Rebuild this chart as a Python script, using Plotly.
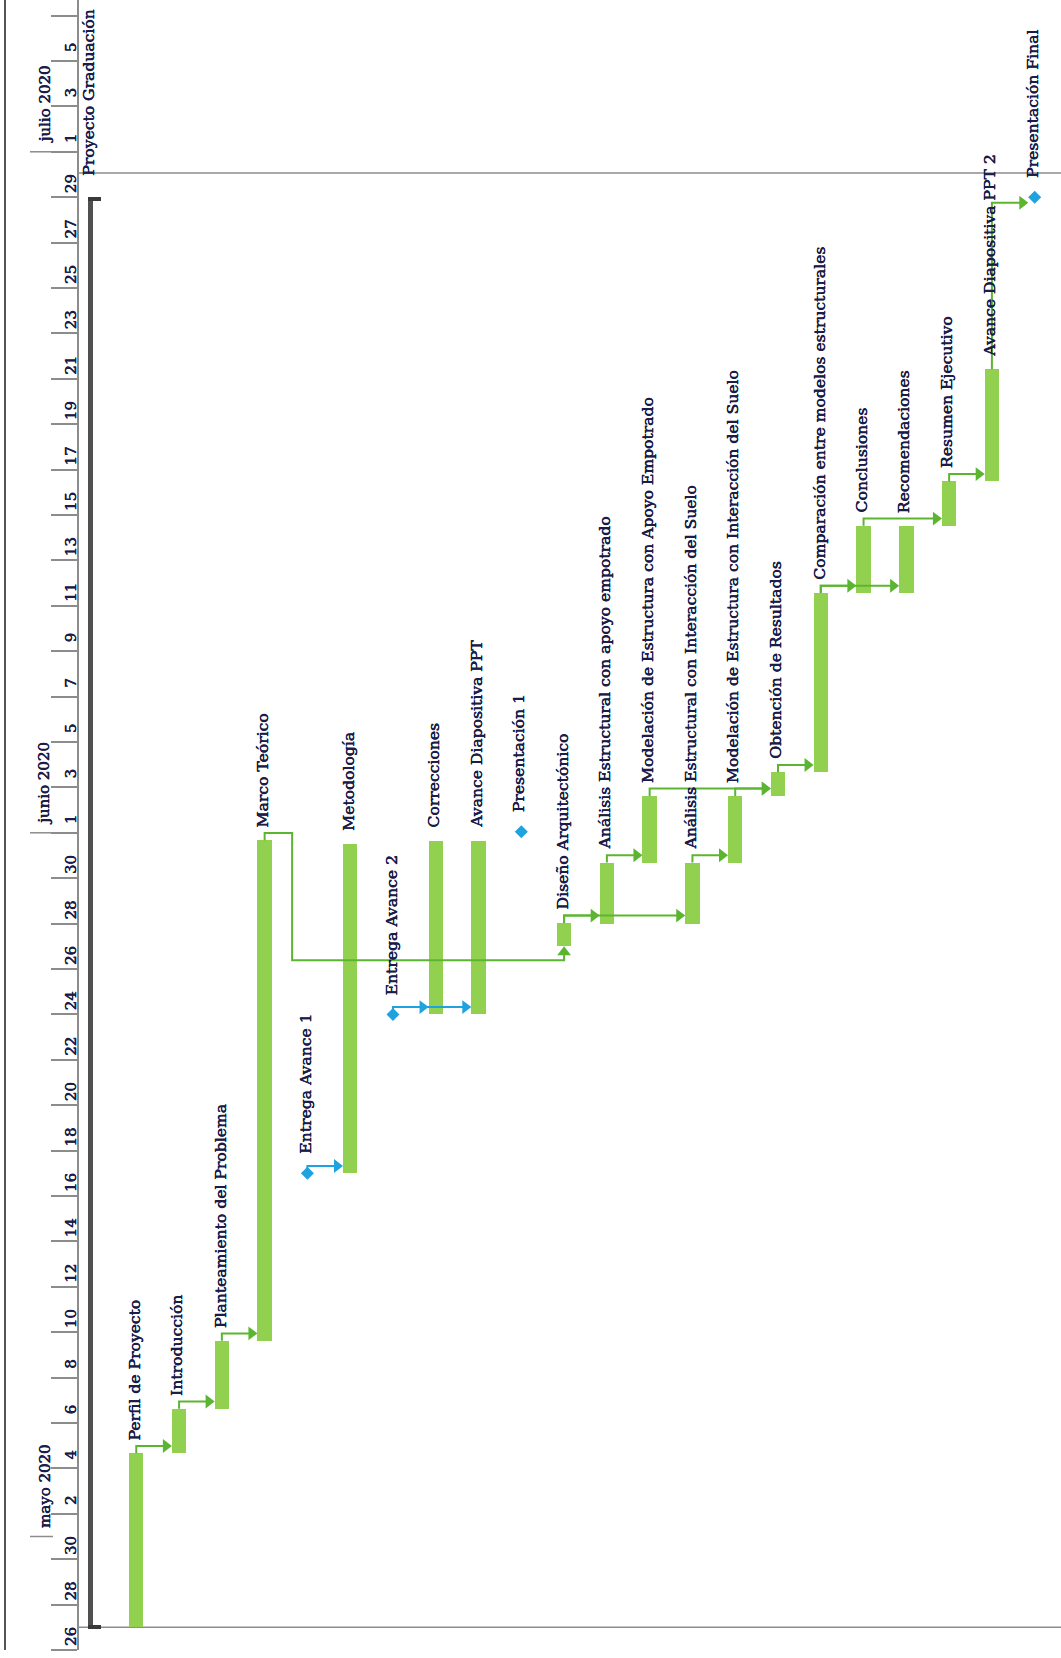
import plotly.graph_objects as go
import pandas as pd

# ---------------- data ----------------
task_names = [
    "Perfil de Proyecto", "Introducción", "Planteamiento del Problema", "Marco Teórico",
    "Entrega Avance 1", "Metodología", "Entrega Avance 2", "Correcciones",
    "Avance Diapositiva PPT", "Presentación 1", "Diseño Arquitectónico",
    "Análisis Estructural con apoyo empotrado",
    "Modelación de Estructura con Apoyo Empotrado",
    "Análisis Estructural con Interacción del Suelo",
    "Modelación de Estructura con Interacción del Suelo",
    "Obtención de Resultados", "Comparación entre modelos estructurales",
    "Conclusiones", "Recomendaciones", "Resumen Ejecutivo",
    "Avance Diapositiva PPT 2", "Presentación Final",
]
task_kinds = [
    "task", "task", "task", "task", "milestone", "task", "milestone", "task",
    "task", "milestone", "task", "task", "task", "task", "task", "task", "task",
    "task", "task", "task", "task", "milestone",
]
task_starts = [
    "2020-04-27 00:00", "2020-05-04 16:00", "2020-05-06 15:00", "2020-05-09 15:00",
    "2020-05-17 00:00", "2020-05-17 00:00", "2020-05-24 00:00", "2020-05-24 00:00",
    "2020-05-24 00:00", "2020-06-01 01:00", "2020-05-27 00:00",
    "2020-05-28 00:00", "2020-05-30 16:30",
    "2020-05-28 00:00", "2020-05-30 16:30",
    "2020-06-02 15:00", "2020-06-03 16:00",
    "2020-06-11 13:30", "2020-06-11 13:30", "2020-06-14 12:30",
    "2020-06-16 11:30", "2020-06-29 00:00",
]
task_finishes = [
    "2020-05-04 16:00", "2020-05-06 15:00", "2020-05-09 15:00", "2020-05-31 16:00",
    "2020-05-17 00:00", "2020-05-31 12:30", "2020-05-24 00:00", "2020-05-31 15:30",
    "2020-05-31 15:30", "2020-06-01 01:00", "2020-05-28 00:45",
    "2020-05-30 16:30", "2020-06-02 15:00",
    "2020-05-30 16:30", "2020-06-02 15:00",
    "2020-06-03 16:00", "2020-06-11 13:30",
    "2020-06-14 12:30", "2020-06-14 12:30", "2020-06-16 11:30",
    "2020-06-21 10:00", "2020-06-29 00:00",
]
summary_name = "Proyecto Graduación"
summary_start = "2020-04-27 00:00"
summary_finish = "2020-06-29 00:00"

# dependencies (predecessor index -> successor index)
link_from = [0, 1, 2, 4, 6, 6, 3, 10, 10, 11, 13, 12, 14, 15, 16, 16, 17, 19, 20]
link_to = [1, 2, 3, 5, 7, 8, 10, 11, 13, 12, 14, 15, 15, 16, 17, 18, 19, 20, 21]

month_labels = ["mayo 2020", "junio 2020", "julio 2020"]
month_starts = ["2020-05-01", "2020-06-01", "2020-07-01"]

project_start_line = "2020-04-27 00:00"
status_line = "2020-06-30 01:40"

time_range = ["2020-04-26 00:00", "2020-07-07 16:29"]

# ---------------- styling ----------------
W, H = 1061, 1658
ML, MR, MT, MB = 79, 0, 0, 8
PW, PH = W - ML - MR, H - MT - MB
X_RANGE = [-1.339, 21.615]
COL_PX = PW / (X_RANGE[1] - X_RANGE[0])
t0, t1 = pd.Timestamp(time_range[0]), pd.Timestamp(time_range[1])
DAY_PX = PH / ((t1 - t0) / pd.Timedelta(days=1))

BAR_GREEN = "#92d050"
LINK_GREEN = "#5cb531"
BLUE = "#1fa2e0"
TEXT = "#1c1c4a"
GRID = "#8c8c8c"
FONT = "DejaVu Serif"
SHADOW = "0.45px 0 0 #1c1c4a, -0.2px 0 0 #1c1c4a"
BAR_PX = 14.4


def dpx(p):
    return pd.Timedelta(days=p / DAY_PX)


def cpx(p):
    return p / COL_PX


def paper_x(px):
    return (px - ML) / PW


starts = [pd.Timestamp(s) for s in task_starts]
finishes = [pd.Timestamp(s) for s in task_finishes]
cols = list(range(len(task_names)))

fig = go.Figure()

# task bars
bi = [i for i, k in enumerate(task_kinds) if k == "task"]
fig.add_trace(go.Bar(
    x=[cols[i] for i in bi],
    y=[(finishes[i] - starts[i]) / pd.Timedelta(milliseconds=1) for i in bi],
    base=[task_starts[i] for i in bi],
    width=cpx(BAR_PX), marker=dict(color=BAR_GREEN, line=dict(width=0)),
    hoverinfo="skip", showlegend=False,
))

# summary bar
ss_, sf_ = pd.Timestamp(summary_start), pd.Timestamp(summary_finish)
fig.add_trace(go.Bar(
    x=[-1], y=[(sf_ - ss_) / pd.Timedelta(milliseconds=1)], base=[summary_start],
    width=cpx(5), offset=-cpx(6), marker=dict(color="#505050", line=dict(width=0)),
    hoverinfo="skip", showlegend=False,
))
cap_ms = dpx(3.8) / pd.Timedelta(milliseconds=1)
fig.add_trace(go.Bar(
    x=[-1, -1], y=[cap_ms, cap_ms], base=[ss_ - dpx(1.5), sf_ - dpx(3.8)],
    width=cpx(13.5), offset=-cpx(6), marker=dict(color="#3a3a3a", line=dict(width=0)),
    hoverinfo="skip", showlegend=False,
))

# links
arrows = {"green": {"right": ([], []), "up": ([], [])},
          "blue": {"right": ([], []), "up": ([], [])}}
for p, s in zip(link_from, link_to):
    color = "blue" if task_kinds[p] == "milestone" else "green"
    pc, sc = cols[p], cols[s]
    pf, st = finishes[p], starts[s]
    if task_kinds[s] == "milestone":
        ly = st - dpx(5.6)
        tip = sc - cpx(6.4)
        xs, ys = [pc, pc, tip - cpx(4)], [pf, ly, ly]
        arrows[color]["right"][0].append(tip - cpx(6))
        arrows[color]["right"][1].append(ly)
    elif st >= pf - dpx(3):
        ly = max(st, pf) + dpx(7.3)
        tip = sc - cpx(BAR_PX / 2)
        xs, ys = [pc, pc, tip - cpx(4)], [pf, ly, ly]
        arrows[color]["right"][0].append(tip - cpx(6))
        arrows[color]["right"][1].append(ly)
    else:
        ly1 = pf + dpx(7.3)
        xr = pc + cpx(27.5)
        ly2 = st - dpx(14)
        xs = [pc, pc, xr, xr, sc, sc]
        ys = [pf, ly1, ly1, ly2, ly2, st - dpx(4)]
        arrows[color]["up"][0].append(sc)
        arrows[color]["up"][1].append(st - dpx(6))
    fig.add_trace(go.Scatter(
        x=xs, y=ys, mode="lines",
        line=dict(color=BLUE if color == "blue" else LINK_GREEN, width=2),
        hoverinfo="skip", showlegend=False,
    ))

for color, dd in arrows.items():
    for direction, (ax, ay) in dd.items():
        if not ax:
            continue
        fig.add_trace(go.Scatter(
            x=ax, y=ay, mode="markers",
            marker=dict(symbol="triangle-" + direction, size=12,
                        color=BLUE if color == "blue" else LINK_GREEN,
                        line=dict(width=0)),
            hoverinfo="skip", showlegend=False,
        ))

# milestones
mi = [i for i, k in enumerate(task_kinds) if k == "milestone"]
fig.add_trace(go.Scatter(
    x=[cols[i] for i in mi], y=[task_starts[i] for i in mi], mode="markers",
    marker=dict(symbol="diamond", size=10, color=BLUE, line=dict(width=0)),
    hoverinfo="skip", showlegend=False,
))

# labels
label_font = dict(family=FONT, size=15.6, color=TEXT, shadow=SHADOW)
annotations = []
for i, name in enumerate(task_names):
    if task_kinds[i] == "milestone":
        y, sh = task_starts[i], 17.5
    else:
        y, sh = task_finishes[i], 11
    annotations.append(dict(
        x=cols[i], y=y, xref="x", yref="y", text=name, showarrow=False,
        textangle=-90, xanchor="center", yanchor="bottom", yshift=sh, xshift=-1.5,
        font=label_font,
    ))
annotations.append(dict(
    x=-1, y=summary_finish, xref="x", yref="y", text=summary_name, showarrow=False,
    textangle=-90, xanchor="center", yanchor="bottom", yshift=19, xshift=-4,
    font=label_font,
))
for lab, ms in zip(month_labels, month_starts):
    annotations.append(dict(
        x=paper_x(44.5), y=ms, xref="paper", yref="y", text=lab, showarrow=False,
        textangle=-90, xanchor="center", yanchor="bottom", yshift=6,
        font=dict(family=FONT, size=15, color=TEXT, shadow=SHADOW),
    ))

shapes = []
for ms in month_starts:
    shapes.append(dict(type="line", xref="paper", yref="y",
                       x0=paper_x(30), x1=paper_x(53), y0=ms, y1=ms,
                       line=dict(color=GRID, width=1.5)))
shapes.append(dict(type="line", xref="paper", yref="paper",
                   x0=paper_x(5), x1=paper_x(5), y0=0, y1=1,
                   line=dict(color="#555555", width=2)))
for yl in [project_start_line, status_line]:
    shapes.append(dict(type="line", xref="paper", yref="y", x0=0, x1=1,
                       y0=yl, y1=yl, layer="below",
                       line=dict(color=GRID, width=1.5)))

fig.update_layout(
    width=W, height=H,
    margin=dict(l=ML, r=MR, t=MT, b=MB),
    paper_bgcolor="white", plot_bgcolor="white",
    showlegend=False, barmode="overlay", bargap=0,
    annotations=annotations, shapes=shapes,
    xaxis=dict(range=X_RANGE, visible=False, fixedrange=True),
    yaxis=dict(
        type="date", range=time_range, tick0="2020-04-26", dtick=2 * 86400000,
        tickformat="%-d", ticklabelmode="period", tickangle=-90,
        ticks="outside", ticklen=26, tickcolor=GRID, tickwidth=1.5,
        showgrid=False, zeroline=False, showline=True, linecolor=GRID, linewidth=1.5,
        tickfont=dict(family=FONT, size=15, color=TEXT, shadow=SHADOW),
        ticklabelstandoff=-31,
    ),
)

fig.write_html("out.html")
